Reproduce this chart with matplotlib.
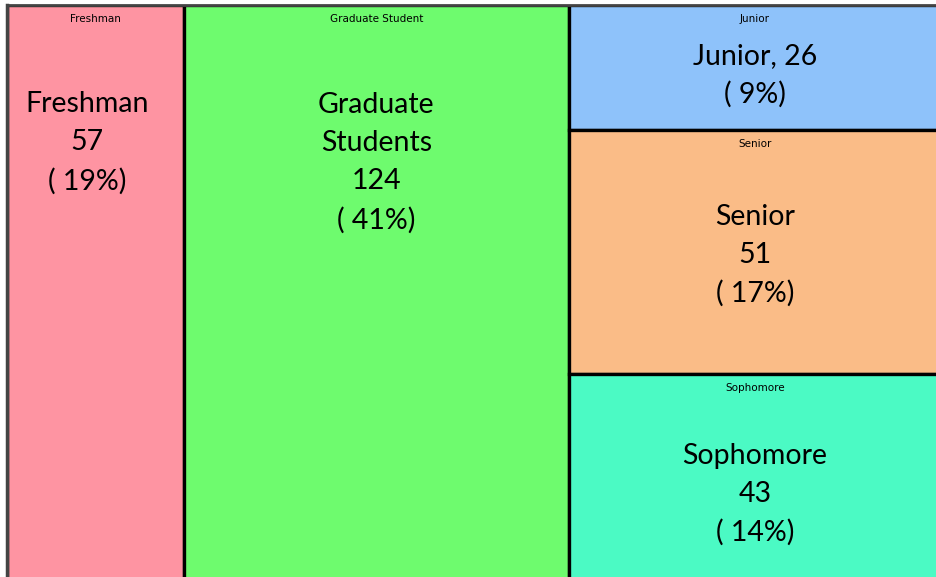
import matplotlib
matplotlib.use("Agg")
import matplotlib.pyplot as plt
from matplotlib.patches import Rectangle

# ---- data ----
categories = ["Freshman", "Graduate Student", "Junior", "Senior", "Sophomore"]
values = [57, 124, 26, 51, 43]
main_names = ["Freshman", "Graduate\nStudents", "Junior", "Senior", "Sophomore"]
colors = ["#FE94A2", "#6EFB6E", "#8EC2FA", "#FABC87", "#4BFAC4"]
# grouping: first two are full-height columns, rest stacked in the last column
columns = [[0], [1], [2, 3, 4]]

total = sum(values)
W, H = 1.0, 1.0

fig = plt.figure(figsize=(9.36, 5.77), dpi=100)
ax = fig.add_axes([7/936, -3/577, 934/936, 575/577])
ax.set_xlim(0, W)
ax.set_ylim(H, 0)
ax.axis("off")

# text vertical positions (fraction of cell height from top) - layout only
text_frac = [0.24, 0.275, 0.566, 0.515, 0.585]

x = 0.0
for col in columns:
    colsum = sum(values[i] for i in col)
    cw = W * colsum / total
    y = 0.0
    for i in col:
        ch = H * values[i] / colsum
        ax.add_patch(Rectangle((x, y), cw, ch, facecolor=colors[i],
                               edgecolor="black", linewidth=2.4))
        pct = round(100 * values[i] / total)
        if main_names[i] == "Junior":
            label = f"{main_names[i]}, {values[i]}\n( {pct}%)"
        else:
            label = f"{main_names[i]}\n{values[i]}\n( {pct}%)"
        ax.text(x + cw / 2 - (0.009 if i == 0 else 0), y + ch * text_frac[i], label,
                ha="center", va="center", fontsize=20.5, family="Lato",
                linespacing=1.57, color="black")
        ax.text(x + cw / 2, y + 0.025 * H, categories[i], ha="center",
                va="center", fontsize=7.5, family="DejaVu Sans",
                color="black")
        y += ch
    x += cw

# top and left outline
ax.plot([0, W], [0.0, 0.0], color="#444444", linewidth=2, clip_on=False)
ax.plot([0, 0], [0, H], color="#444444", linewidth=2.5, clip_on=False)

fig.savefig("out.png", dpi=100)
